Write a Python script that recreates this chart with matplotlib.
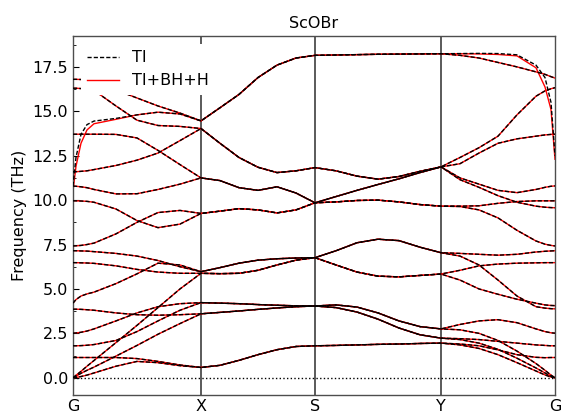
import numpy as np
import matplotlib
matplotlib.use("Agg")
import matplotlib.pyplot as plt
from matplotlib.ticker import MultipleLocator

# Phonon dispersion of ScOBr along G-X-S-Y-G
# path coordinate (same grid for every band, denser near G where LO-TO splitting bends the bands)
q = [0, 3, 8, 14, 21, 43, 64, 85, 107, 128,
     147, 166, 185, 204, 223, 242,
     263, 284, 305, 326, 347, 368,
     387, 406, 425, 444, 463, 472, 478, 482]
kpath_pos = [0, 128, 242, 368, 482]
kpath_labels = ["G", "X", "S", "Y", "G"]

# frequencies (THz), one list per band
b01 = [0, 0.02, 0.07, 0.15, 0.27, 0.65, 0.92, 0.85, 0.68, 0.58,
       0.7, 0.98, 1.3, 1.58, 1.76, 1.80,
       1.82, 1.85, 1.88, 1.9, 1.93, 1.95,
       1.9, 1.8, 1.57, 1.3, 1.15, 1.13, 1.14, 1.14]
b02 = [1.14, 1.14, 1.14, 1.14, 1.14, 1.14, 1.08, 0.92, 0.72, 0.58,
       0.7, 0.98, 1.3, 1.58, 1.76, 1.80,
       1.82, 1.85, 1.88, 1.9, 1.93, 1.95,
       1.85, 1.65, 1.3, 0.85, 0.38, 0.16, 0.04, 0]
b03 = [0, 0.09, 0.25, 0.42, 0.6, 1.22, 1.82, 2.45, 3.05, 3.6,
       3.68, 3.76, 3.85, 3.93, 4.0, 4.04,
       4.1, 3.98, 3.65, 3.2, 2.88, 2.75,
       3.0, 3.2, 3.27, 3.1, 2.75, 2.6, 2.53, 2.51]
b04 = [1.8, 1.8, 1.81, 1.83, 1.87, 2.1, 2.6, 3.2, 3.8, 4.23,
       4.2, 4.17, 4.12, 4.08, 4.05, 4.04,
       3.95, 3.7, 3.3, 2.8, 2.42, 2.23,
       2.2, 2.15, 2.05, 1.95, 1.85, 1.82, 1.8, 1.8]
b05 = [2.51, 2.52, 2.56, 2.63, 2.75, 3.2, 3.65, 4.0, 4.17, 4.23,
       4.2, 4.17, 4.12, 4.08, 4.05, 4.04,
       3.95, 3.7, 3.3, 2.8, 2.42, 2.23,
       2.15, 1.95, 1.6, 1.1, 0.55, 0.27, 0.08, 0]
b06 = [3.86, 3.86, 3.85, 3.83, 3.8, 3.65, 3.55, 3.52, 3.55, 3.6,
       3.68, 3.76, 3.85, 3.93, 4.0, 4.04,
       4.1, 3.98, 3.65, 3.2, 2.88, 2.75,
       2.7, 2.5, 2.1, 1.5, 0.8, 0.42, 0.15, 0]
b07 = [0, 0.14, 0.36, 0.65, 0.97, 1.98, 2.95, 3.95, 5.0, 5.88,
       5.86, 5.88, 6.05, 6.35, 6.62, 6.76,
       6.35, 5.95, 5.72, 5.68, 5.76, 5.84,
       6.05, 6.3, 6.4, 6.45, 6.47, 6.48, 6.48, 6.48]
b08 = [4.2, 4.4, 4.6, 4.72, 4.82, 5.3, 5.85, 6.45, 6.35, 5.97,
       6.2, 6.45, 6.62, 6.7, 6.74, 6.76,
       7.15, 7.6, 7.8, 7.72, 7.35, 7.04,
       7.0, 6.95, 6.9, 6.95, 7.08, 7.12, 7.14, 7.15]
b09 = [6.48, 6.48, 6.47, 6.46, 6.44, 6.3, 6.1, 5.95, 5.88, 5.88,
       5.86, 5.88, 6.05, 6.35, 6.62, 6.76,
       6.35, 5.95, 5.72, 5.68, 5.76, 5.84,
       5.5, 5.0, 4.7, 4.42, 4.2, 4.1, 4.07, 4.06]
b10 = [7.15, 7.15, 7.14, 7.13, 7.1, 7.0, 6.85, 6.6, 6.25, 5.97,
       6.2, 6.45, 6.62, 6.7, 6.74, 6.76,
       7.15, 7.6, 7.8, 7.72, 7.35, 7.04,
       6.85, 6.35, 5.5, 4.6, 4.0, 3.92, 3.89, 3.88]
b11 = [7.42, 7.43, 7.45, 7.5, 7.58, 8.1, 8.75, 9.3, 9.42, 9.25,
       9.38, 9.52, 9.45, 9.28, 9.45, 9.85,
       9.9, 9.98, 10.0, 9.9, 9.75, 9.66,
       9.66, 9.68, 9.82, 9.92, 9.96, 9.96, 9.96, 9.96]
b12 = [9.96, 9.96, 9.95, 9.93, 9.88, 9.5, 8.85, 8.45, 8.65, 9.25,
       9.38, 9.52, 9.45, 9.28, 9.45, 9.85,
       9.9, 9.98, 10.0, 9.9, 9.75, 9.66,
       9.64, 9.45, 9.0, 8.3, 7.7, 7.52, 7.45, 7.42]
b13 = [10.79, 10.78, 10.75, 10.7, 10.6, 10.35, 10.36, 10.6, 10.9, 11.25,
       11.1, 10.7, 10.55, 10.75, 10.4, 9.85,
       10.2, 10.55, 10.88, 11.2, 11.55, 11.87,
       11.25, 10.9, 10.55, 10.42, 10.6, 10.72, 10.78, 10.8]
b14 = [13.71, 13.71, 13.71, 13.71, 13.71, 13.7, 13.5, 12.8, 12.0, 11.25,
       11.1, 10.7, 10.55, 10.75, 10.4, 9.85,
       10.2, 10.55, 10.88, 11.2, 11.55, 11.87,
       11.15, 10.72, 10.25, 9.88, 9.66, 9.6, 9.58, 9.57]
b15 = [11.59, 11.6, 11.62, 11.65, 11.72, 11.95, 12.25, 12.65, 13.35, 14.03,
       13.2, 12.4, 11.85, 11.55, 11.65, 11.83,
       11.65, 11.35, 11.18, 11.33, 11.62, 11.87,
       12.4, 12.95, 13.6, 14.8, 15.85, 16.15, 16.27, 16.33]
b16 = [16.3, 16.3, 16.28, 16.25, 16.18, 15.3, 14.5, 14.2, 14.15, 14.03,
       13.2, 12.4, 11.85, 11.55, 11.65, 11.83,
       11.65, 11.35, 11.18, 11.33, 11.62, 11.87,
       12.05, 12.65, 13.2, 13.45, 13.6, 13.67, 13.7, 13.71]
b17 = [10.8, 12.4, 13.7, 14.25, 14.45, 14.6, 14.8, 14.95, 14.85, 14.46,
       15.2, 15.95, 16.9, 17.6, 18.0, 18.15,
       18.17, 18.19, 18.21, 18.22, 18.23, 18.24,
       18.25, 18.26, 18.25, 18.18, 17.6, 16.9, 15.5, 12.5]
b18 = [16.8, 16.8, 16.79, 16.77, 16.7, 16.2, 15.75, 15.3, 14.9, 14.46,
       15.2, 15.95, 16.9, 17.6, 18.0, 18.15,
       18.17, 18.19, 18.21, 18.22, 18.23, 18.24,
       18.15, 18.0, 17.75, 17.5, 17.22, 17.08, 16.95, 16.87]

# with Born charges (BH+H) only the top LO branch changes near G
b17_nac = [10.5, 11.9, 13.2, 13.95, 14.3, 14.55, 14.8, 14.95, 14.85, 14.46,
           15.2, 15.95, 16.9, 17.6, 18.0, 18.15,
           18.17, 18.19, 18.21, 18.22, 18.23, 18.24,
           18.24, 18.23, 18.2, 18.12, 17.45, 16.37, 15.1, 12.3]

bands_ti = [b01, b02, b03, b04, b05, b06, b07, b08, b09,
            b10, b11, b12, b13, b14, b15, b16, b17, b18]
bands_nac = bands_ti[:16] + [b17_nac, b18]

plt.rcParams['font.family'] = 'DejaVu Sans'
plt.rcParams['font.size'] = 11.5

fig = plt.figure(figsize=(5.61, 4.16), dpi=100)
ax = fig.add_axes([0.1301, 0.0505, 0.8592, 0.8630])

# TI (black dashed, on top) and TI+BH+H (red solid)
for i, band in enumerate(bands_ti):
    ax.plot(q, band, color='k', lw=1.0, dashes=(3, 1.5), zorder=3,
            label='TI' if i == 0 else None)
for i, band in enumerate(bands_nac):
    ax.plot(q, band, color='red', lw=1.0, zorder=2,
            label='TI+BH+H' if i == 0 else None)

# high symmetry lines and zero line
for xp in kpath_pos[1:-1]:
    ax.axvline(xp, color='#4d4d4d', lw=1.3, zorder=1)
ax.axhline(0, color='k', lw=1.0, ls=':', zorder=1)

ax.set_xlim(kpath_pos[0], kpath_pos[-1])
ax.set_ylim(-0.97, 19.24)
ax.set_xticks(kpath_pos)
ax.set_xticklabels(kpath_labels)
ax.yaxis.set_major_locator(MultipleLocator(2.5))
ax.yaxis.set_minor_locator(MultipleLocator(1.25))
ax.tick_params(axis='both', which='both', direction='in')
ax.tick_params(axis='x', length=0, pad=3)
ax.tick_params(axis='y', which='major', length=4)
ax.tick_params(axis='y', which='minor', length=2.5)
for sp in ax.spines.values():
    sp.set_color('#4d4d4d')
    sp.set_linewidth(1.0)

ax.set_ylabel("Frequency (THz)")
ax.set_title("ScOBr", fontsize=11.5)

leg = ax.legend(loc='upper left', frameon=True, facecolor='white',
                edgecolor='none', framealpha=1.0, fontsize=11.5)
leg.set_zorder(5)

fig.savefig("out.png", dpi=100)
